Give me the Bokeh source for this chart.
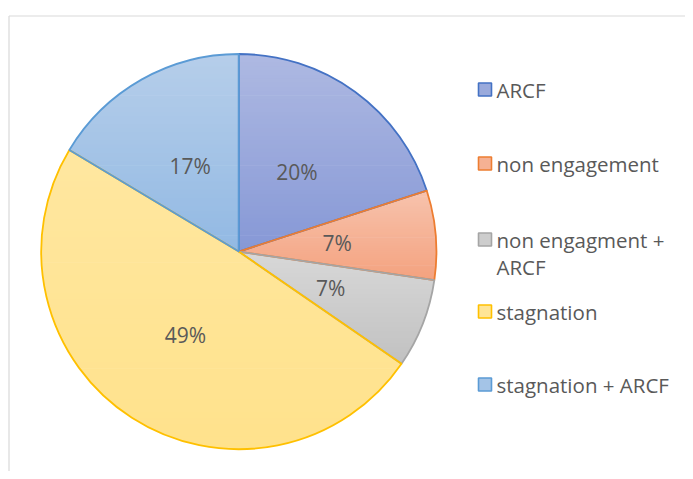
import numpy as np
from bokeh.plotting import figure
from bokeh.models import Range1d
from bokeh.core.properties import value
from bokeh.embed import file_html
from bokeh.resources import INLINE

# ---- data ----
categories = ["ARCF", "non engagement", "non engagment + ARCF", "stagnation", "stagnation + ARCF"]
shares = [20.0, 7.3, 7.3, 49.0, 16.4]
pct_labels = ["20%", "7%", "7%", "49%", "17%"]
legend_lines = [["ARCF"], ["non engagement"], ["non engagment +", "ARCF"], ["stagnation"], ["stagnation + ARCF"]]

# ---- styles ----
line_colors = ["#4472c4", "#ed7d31", "#a5a5a5", "#ffc000", "#5b9bd5"]
top_colors = ["#aeb9e2", "#f7c3ad", "#d8d8d8", "#ffe7a0", "#b6ceea"]
bottom_colors = ["#8698d6", "#f4a27f", "#c1c1c1", "#ffe28c", "#92b9e3"]
mid_colors = ["#9aaadc", "#f5b194", "#cdcdcd", "#ffe596", "#a4c4e7"]
text_color = "#595959"
font = value("Open Sans")

W, H = 685, 471
p = figure(width=W, height=H, output_backend="svg", toolbar_location=None,
           x_range=Range1d(0, W), y_range=Range1d(0, H), min_border=0)
p.axis.visible = False
p.grid.visible = False
p.outline_line_color = None
p.background_fill_color = "white"
p.border_fill_color = "white"


def Y(img_y):
    return H - img_y


# chart frame
p.segment(x0=[8.5, 8.5], y0=[Y(15.5), Y(15.5)], x1=[8.5, 700], y1=[Y(490), Y(15.5)],
          line_color="#d9d9d9", line_width=1.2)

cx, cy, R = 238.3, Y(251.1), 197.6

vals = np.array(shares, dtype=float)
frac = vals / vals.sum()
cum = np.concatenate([[0.0], np.cumsum(frac)])


def hex2rgb(h):
    h = h.lstrip("#")
    return np.array([int(h[i:i + 2], 16) for i in (0, 2, 4)], dtype=float)


def rgb2hex(c):
    c = np.clip(np.round(c), 0, 255).astype(int)
    return "#%02x%02x%02x" % tuple(c)


def clip(poly, y, keep_above):
    out = []
    n = len(poly)
    for i in range(n):
        cur, prev = poly[i], poly[i - 1]
        cin = cur[1] >= y if keep_above else cur[1] <= y
        pin = prev[1] >= y if keep_above else prev[1] <= y
        if cin != pin:
            t = (y - prev[1]) / (cur[1] - prev[1])
            out.append((prev[0] + t * (cur[0] - prev[0]), y))
        if cin:
            out.append(cur)
    return out


N = 48
for i in range(len(vals)):
    a0 = np.pi / 2 - 2 * np.pi * cum[i]
    a1 = np.pi / 2 - 2 * np.pi * cum[i + 1]
    angs = np.linspace(a0, a1, 120)
    poly = [(cx, cy)] + [(cx + R * np.cos(a), cy + R * np.sin(a)) for a in angs]
    ys = [q[1] for q in poly]
    ymax, ymin = max(ys), min(ys)
    h = (ymax - ymin) / N
    c_top, c_bot = hex2rgb(top_colors[i]), hex2rgb(bottom_colors[i])
    bxs, bys, cols = [], [], []
    for k in range(N):
        yh = ymax - k * h
        yl = yh - h - 0.7
        band = clip(clip(poly, yl, True), yh, False)
        if len(band) < 3:
            continue
        t = (k + 0.5) / N
        bxs.append([q[0] for q in band])
        bys.append([q[1] for q in band])
        cols.append(rgb2hex(c_top + (c_bot - c_top) * t))
    p.patches(xs=bxs, ys=bys, fill_color=cols, line_color=None)

# slice outlines (drawn in order, later ones on top)
for i in range(len(vals)):
    a0 = np.pi / 2 - 2 * np.pi * cum[i]
    a1 = np.pi / 2 - 2 * np.pi * cum[i + 1]
    p.wedge(x=cx, y=cy, radius=R, start_angle=a0, end_angle=a1, direction="clock",
            fill_color=None, line_color=line_colors[i], line_width=1.8)

# percentage labels at mid-angle, half radius
mids = np.pi / 2 - 2 * np.pi * (cum[:-1] + cum[1:]) / 2
lx = cx + 0.5 * R * np.cos(mids)
ly = cy + 0.5 * R * np.sin(mids)
p.text(x=lx, y=ly, text=pct_labels, text_font=font, text_font_size="21px",
       text_color=text_color, text_align="center", text_baseline="middle")

# legend
leg_y = [89, 163, 239, 311, 384]
sq = 13
for i, lines in enumerate(legend_lines):
    p.rect(x=484.5, y=Y(leg_y[i]), width=sq, height=sq, fill_color=mid_colors[i],
           line_color=line_colors[i], line_width=1.6)
    for j, ln in enumerate(lines):
        p.text(x=[496], y=[Y(leg_y[i] + j * 27)], text=[ln], text_font=font,
               text_font_size="20.5px", text_color=text_color,
               text_align="left", text_baseline="middle")

open("out.html", "w").write(file_html(p, INLINE))
